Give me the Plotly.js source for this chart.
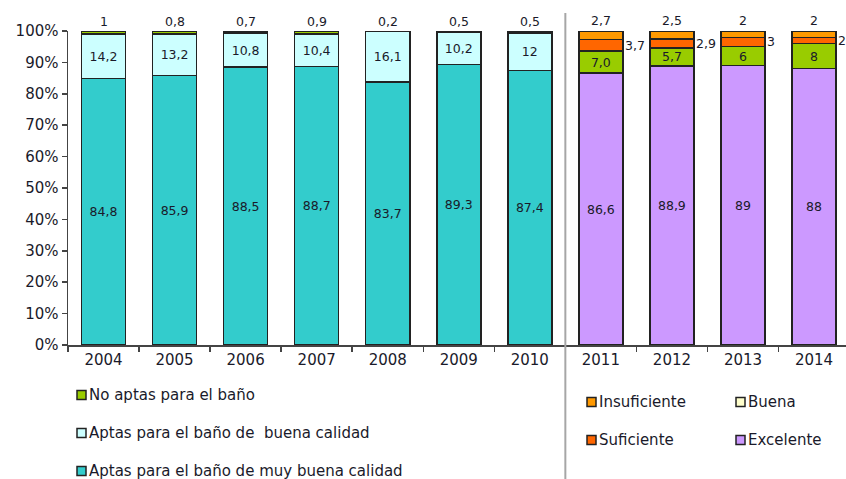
<!DOCTYPE html>
<html>
<head>
<meta charset="utf-8">
<script src="https://cdn.plot.ly/plotly-3.0.1.min.js"></script>
<style>html,body{margin:0;padding:0;background:#fff;}#chart{width:846px;height:479px;}</style>
</head>
<body>
<div id="chart"></div>
<script>
var years = ['2004','2005','2006','2007','2008','2009','2010','2011','2012','2013','2014'];
// Period 2004-2010
var muyBuena = [84.8, 85.9, 88.5, 88.7, 83.7, 89.3, 87.4, null, null, null, null];
var buenaCal = [14.2, 13.2, 10.8, 10.4, 16.1, 10.2, 12, null, null, null, null];
var noAptas  = [1, 0.8, 0.7, 0.9, 0.2, 0.5, 0.5, null, null, null, null];
// Period 2011-2014
var excelente    = [null, null, null, null, null, null, null, 86.6, 88.9, 89, 88];
var buena        = [null, null, null, null, null, null, null, 7.0, 5.7, 6, 8];
var suficiente   = [null, null, null, null, null, null, null, 3.7, 2.9, 3, 2];
var insuficiente = [null, null, null, null, null, null, null, 2.7, 2.5, 2, 2];

var leftLegend = ['No aptas para el baño', 'Aptas para el baño de  buena calidad', 'Aptas para el baño de muy buena calidad'];
var rightLegend = ['Insuficiente', 'Buena', 'Suficiente', 'Excelente'];

var C = {
  muyBuena: '#33CCCC', buenaCal: '#CCFFFF', noAptas: '#99CC00',
  excelente: '#CC99FF', buena: '#99CC00', suficiente: '#FF6600', insuficiente: '#FF9900',
  buenaLegend: '#FFFFCC'
};

function fmt(v, dec) {
  if (v === null || v === undefined) return '';
  var s = dec ? v.toFixed(dec) : String(v);
  return s.replace('.', ',');
}

var FONT = 'DejaVu Sans, Verdana, sans-serif';
var TXT = '#1a1a2a';
var LINE = {color: '#222', width: 1.5};

function barTrace(name, vals, color, showText, decs) {
  return {
    type: 'bar', name: name, x: years, y: vals,
    marker: {color: color, line: LINE},
    text: showText ? vals.map(function (v, i) { return fmt(v, decs ? decs[i] : 0); }) : null,
    textposition: showText ? 'inside' : 'none',
    insidetextanchor: 'middle',
    textangle: 0,
    constraintext: 'none',
    textfont: {family: FONT, size: 12.5, color: TXT},
    hoverinfo: 'x+y+name',
    cliponaxis: false,
    showlegend: false
  };
}

var buenaDecs = [0,0,0,0,0,0,0,1,0,0,0];
var data = [
  barTrace('Aptas para el baño de muy buena calidad', muyBuena, C.muyBuena, true),
  barTrace('Aptas para el baño de buena calidad', buenaCal, C.buenaCal, true),
  barTrace('No aptas para el baño', noAptas, C.noAptas, false),
  barTrace('Excelente', excelente, C.excelente, true),
  barTrace('Buena', buena, C.buena, true, buenaDecs),
  barTrace('Suficiente', suficiente, C.suficiente, false),
  barTrace('Insuficiente', insuficiente, C.insuficiente, false)
];

var annotations = [];
var lblFont = {family: FONT, size: 12.5, color: TXT};
years.forEach(function (yr, i) {
  if (noAptas[i] !== null) {
    var top = Math.min(100, muyBuena[i] + buenaCal[i] + noAptas[i]);
    annotations.push({x: i, y: top, xref: 'x', yref: 'y',
      text: fmt(noAptas[i]), showarrow: false, yanchor: 'bottom', yshift: 0, font: lblFont});
  }
  if (insuficiente[i] !== null) {
    var top2 = Math.min(100, excelente[i] + buena[i] + suficiente[i] + insuficiente[i]);
    annotations.push({x: i, y: top2, xref: 'x', yref: 'y',
      text: fmt(insuficiente[i]), showarrow: false, yanchor: 'bottom', yshift: 1, font: lblFont});
    annotations.push({x: i, y: excelente[i] + buena[i] + suficiente[i] / 2, xref: 'x', yref: 'y',
      text: fmt(suficiente[i]), showarrow: false, xanchor: 'left', xshift: 22, font: lblFont});
  }
});

// Manual legends (pixel -> paper helpers)
var W = 846, H = 479, ML = 68, MR = 0, MT = 31, MB = 134;
var PW = W - ML - MR, PH = H - MT - MB;
function px(x) { return (x - ML) / PW; }
function py(y) { return (H - MB - y) / PH; }

var shapes = [];
function legendItem(x, y, color, label) {
  shapes.push({type: 'rect', xref: 'paper', yref: 'paper', x0: px(x), x1: px(x + 9), y0: py(y + 4.5), y1: py(y - 4.5),
    fillcolor: color, line: {color: '#222', width: 1.5}});
  annotations.push({xref: 'paper', yref: 'paper', x: px(x + 10), y: py(y), text: label, showarrow: false,
    xanchor: 'left', yanchor: 'middle', font: {family: FONT, size: 15, color: TXT}});
}
legendItem(77, 395, C.noAptas, leftLegend[0]);
legendItem(77, 433, C.buenaCal, leftLegend[1]);
legendItem(77, 471, C.muyBuena, leftLegend[2]);
legendItem(587, 402, C.insuficiente, rightLegend[0]);
legendItem(736, 402, C.buenaLegend, rightLegend[1]);
legendItem(587, 440, C.suficiente, rightLegend[2]);
legendItem(736, 440, C.excelente, rightLegend[3]);

// separator between periods
shapes.push({type: 'line', xref: 'x', yref: 'paper', x0: 6.5, x1: 6.5, y0: py(H + 2), y1: py(13),
  line: {color: '#a6a6a6', width: 2}});

var layout = {
  width: W, height: H,
  margin: {l: ML, r: MR, t: MT, b: MB, pad: 0},
  paper_bgcolor: '#fff', plot_bgcolor: '#fff',
  barmode: 'stack', bargap: 0.38,
  font: {family: FONT, color: TXT},
  showlegend: false,
  xaxis: {
    type: 'category', range: [-0.5, 10.45], fixedrange: true,
    showline: true, linecolor: '#444', linewidth: 1.5,
    ticks: 'outside', tickson: 'boundaries', ticklen: 5, tickcolor: '#444', tickwidth: 1.5,
    tickfont: {family: FONT, size: 15, color: TXT}, showgrid: false, zeroline: false
  },
  yaxis: {
    range: [0, 100], dtick: 10, ticksuffix: '%', fixedrange: true,
    showline: true, linecolor: '#444', linewidth: 1.5,
    ticks: 'outside', ticklen: 5, tickcolor: '#444', tickwidth: 1.5,
    tickfont: {family: FONT, size: 15, color: TXT}, showgrid: false, zeroline: false
  },
  annotations: annotations,
  shapes: shapes
};

Plotly.newPlot('chart', data, layout, {displayModeBar: false, staticPlot: true});
</script>
</body>
</html>
